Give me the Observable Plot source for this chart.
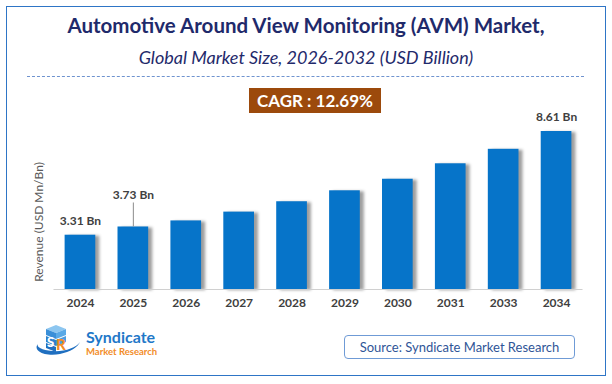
<!DOCTYPE html>
<html>
<head>
<meta charset="utf-8">
<script src="https://cdn.jsdelivr.net/npm/d3@7"></script>
<script src="https://cdn.jsdelivr.net/npm/@observablehq/plot@0.6"></script>
<style>
  html, body { margin: 0; padding: 0; background: #fff; }
  #wrap { position: relative; width: 612px; height: 384px; overflow: hidden; font-family: Lato, "Open Sans", sans-serif; }
  #chart { position: absolute; left: 0; top: 0; }
  #border { position: absolute; left: 6px; top: 6px; width: 598px; height: 368px; border: 1.6px solid #2E75C6; box-sizing: content-box; }
  .title { position: absolute; left: 0; width: 612px; text-align: center; color: #1F2A6B; white-space: nowrap; }
  #t1 { top: 13px; font-size: 20.5px; font-weight: 700; }
  #t2 { top: 46px; font-size: 18px; font-style: italic; }
  #dash { position: absolute; left: 27px; width: 557px; top: 76px; border-top: 1px dashed #6F93CF; }
  #cagr { position: absolute; left: 249px; top: 88px; width: 132px; height: 25px; background: #9C4A0C; color: #fff; font-weight: 700; font-size: 17px; line-height: 25px; text-align: center; white-space: nowrap; }
  #ylab { position: absolute; left: 38px; top: 222px; transform: translate(-50%, -50%) rotate(-90deg); font-size: 12px; color: #595959; white-space: nowrap; }
  #source { position: absolute; left: 344px; top: 335px; width: 229px; height: 22px; border: 1.2px solid #6F9BD6; border-radius: 4px; color: #2F5597; font-size: 13px; line-height: 22px; text-align: center; white-space: nowrap; }
  #logo { position: absolute; left: 30px; top: 320px; }
  svg g[aria-label="bar"] { filter: drop-shadow(4px 1px 1.5px rgba(0,0,0,0.38)); }
</style>
</head>
<body>
<div id="wrap">
  <div id="chart"></div>
  <div id="border"></div>
  <div class="title" id="t1"></div>
  <div class="title" id="t2"></div>
  <div id="dash"></div>
  <div id="cagr"></div>
  <div id="ylab"></div>
  <svg id="logo" width="130" height="44" viewBox="0 0 130 44">
    <path d="M8,24 C2,31 16,37 30,34 C40,32 48,27 50,22 C46,28 34,32 22,31 C12,30 6,27 8,24 Z" fill="#1F6FC0"/>
    <polygon points="16,9 26,5 36,9 26,13" fill="#8CC6F0"/>
    <polygon points="16,9 26,13 26,19 16,15" fill="#3A8FD8"/>
    <polygon points="26,13 36,9 36,15 26,19" fill="#5AA9E6"/>
    <polygon points="16,16 26,20 26,26 16,22" fill="#2E80CC"/>
    <polygon points="26,20 36,16 36,22 26,26" fill="#4C9DE0"/>
    <polygon points="16,23 26,27 26,32 16,28" fill="#1F6FC0"/>
    <text x="17" y="27" font-family="Lato, sans-serif" font-weight="900" font-size="13" fill="#ffffff">S</text>
    <text x="26" y="30" font-family="Lato, sans-serif" font-weight="900" font-size="15" fill="#F28C28">R</text>
    <text id="logo1" x="56" y="23" font-family="Lato, sans-serif" font-weight="700" font-size="16" fill="#1F78C8"></text>
    <text id="logo2" x="56" y="35" font-family="Lato, sans-serif" font-weight="700" font-size="9.5" fill="#F28C28"></text>
  </svg>
  <div id="source"></div>
</div>
<script>
// ---- data ----
const years = ["2024", "2025", "2026", "2027", "2028", "2029", "2030", "2031", "2033", "2034"];
const revenue = [3.31, 3.73, 4.04, 4.49, 5.02, 5.58, 6.17, 6.96, 7.70, 8.61];
const labelledYears = ["2024", "2025", "2034"];
const leaderYears = ["2025"];
const titleText = "Automotive Around View Monitoring (AVM) Market,";
const subtitleText = "Global Market Size, 2026-2032 (USD Billion)";
const cagrText = "CAGR : 12.69%";
const yAxisLabel = "Revenue (USD Mn/Bn)";
const sourceText = "Source: Syndicate Market Research";
const logoName = "Syndicate";
const logoSub = "Market Research";

// ---- text ----
document.getElementById("t1").textContent = titleText;
document.getElementById("t2").textContent = subtitleText;
document.getElementById("cagr").textContent = cagrText;
document.getElementById("ylab").textContent = yAxisLabel;
document.getElementById("source").textContent = sourceText;
document.getElementById("logo1").textContent = logoName;
document.getElementById("logo2").textContent = logoSub;

// ---- chart ----
const data = years.map((y, i) => ({year: y, value: revenue[i]}));
const plainLabels = data.filter(d => labelledYears.includes(d.year) && !leaderYears.includes(d.year));
const leader = data.filter(d => leaderYears.includes(d.year));
const yFloor = 0.535;
const pxPerUnit = (289 - 131) / (d3.max(revenue) - yFloor);
const fmt = d => d.value.toFixed(2) + " Bn";
const labelStyle = {fill: "#404040", fontWeight: "bold", fontSize: 12, fontFamily: "Lato, sans-serif"};

const chart = Plot.plot({
  width: 612,
  height: 384,
  marginLeft: 53.5,
  marginRight: 29.5,
  marginTop: 131,
  marginBottom: 95,
  style: {background: "transparent", overflow: "visible"},
  x: {domain: years, paddingInner: 0.42, paddingOuter: 0.21, round: false, label: null},
  y: {domain: [yFloor, d3.max(revenue)], axis: null},
  marks: [
    Plot.barY(data, {x: "year", y1: () => yFloor, y2: "value", fill: "#0674C9"}),
    Plot.ruleY([yFloor], {stroke: "#D0D0D0", strokeWidth: 1.2}),
    Plot.ruleX(leader, {x: "year", y1: "value", y2: d => d.value + 24 / pxPerUnit, stroke: "#8C8C8C", strokeWidth: 1}),
    Plot.text(plainLabels, {x: "year", y: "value", text: fmt, dy: -14, ...labelStyle}),
    Plot.text(leader, {x: "year", y: "value", text: fmt, dy: -32, ...labelStyle}),
    Plot.axisX({tickSize: 0, tickPadding: 9, fontSize: 12, fontWeight: "bold", fill: "#404040", fontFamily: "Lato, sans-serif", label: null})
  ]
});
document.getElementById("chart").appendChild(chart);
</script>
</body>
</html>
